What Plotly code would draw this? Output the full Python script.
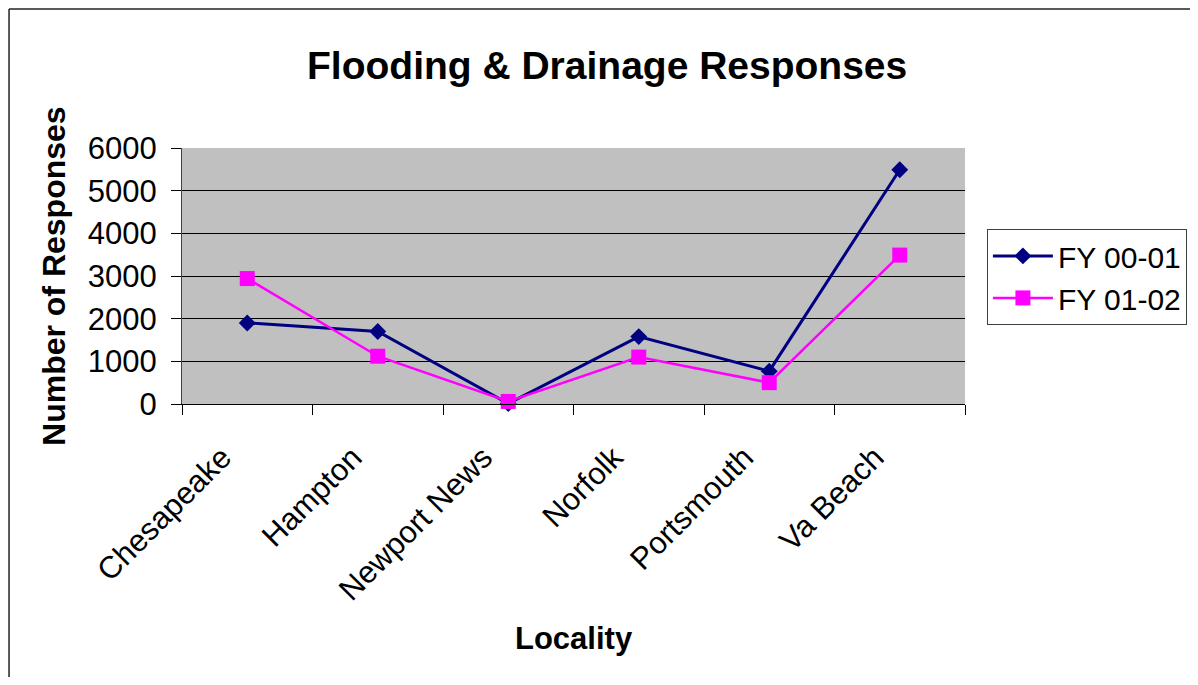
import plotly.graph_objects as go

categories = ["Chesapeake", "Hampton", "Newport News", "Norfolk", "Portsmouth", "Va Beach"]
fy_00_01 = [1900, 1700, 10, 1580, 770, 5490]
fy_01_02 = [2940, 1120, 60, 1100, 500, 3490]
series_names = ["FY 00-01", "FY 01-02"]
y_ticks = [0, 1000, 2000, 3000, 4000, 5000, 6000]

FONT = "Arial, Liberation Sans, sans-serif"

fig = go.Figure()
fig.add_trace(go.Scatter(
    x=categories, y=fy_00_01, name=series_names[0], mode="lines+markers",
    line=dict(color="#000080", width=3),
    marker=dict(symbol="diamond", size=13, color="#000080"),
    cliponaxis=False,
))
fig.add_trace(go.Scatter(
    x=categories, y=fy_01_02, name=series_names[1], mode="lines+markers",
    line=dict(color="#FF00FF", width=2.5),
    marker=dict(symbol="square", size=15, color="#FF00FF"),
    cliponaxis=False,
))

frame = dict(color="#222222", width=1.5)

fig.update_layout(
    width=1182, height=669,
    margin=dict(l=174, r=225, t=140, b=273, autoexpand=False),
    paper_bgcolor="white",
    plot_bgcolor="#C0C0C0",
    font=dict(family=FONT, color="black", size=31),
    showlegend=True,
    legend=dict(
        x=1.028, xanchor="left", y=0.684, yanchor="top",
        bordercolor="#404040", borderwidth=1, bgcolor="white",
        font=dict(size=30, family=FONT),
        tracegroupgap=0, itemwidth=60,
    ),
    xaxis=dict(
        type="category", range=[-0.5, 5.5],
        tickson="boundaries", ticks="outside", ticklen=10, tickcolor="black",
        showline=True, linecolor="black", linewidth=1,
        showgrid=False, tickangle=-45, ticklabelstandoff=22, ticklabelshift=-25,
        tickfont=dict(size=31, family=FONT),
    ),
    yaxis=dict(
        range=[0, 6000], tickvals=y_ticks,
        ticks="outside", ticklen=10, tickcolor="black",
        showline=True, linecolor="#404040", linewidth=1,
        showgrid=True, gridcolor="black", gridwidth=1,
        zeroline=False, ticklabelstandoff=8,
        tickfont=dict(size=31, family=FONT),
    ),
    annotations=[
        dict(text="<b>Flooding & Drainage Responses</b>", xref="paper", yref="paper",
             x=0.5428, y=1.324, xanchor="center", yanchor="middle", showarrow=False,
             font=dict(size=39, family=FONT)),
        dict(text="<b>Number of Responses</b>", xref="paper", yref="paper",
             x=-0.1635, y=0.5, xanchor="center", yanchor="middle", showarrow=False,
             textangle=-90, font=dict(size=32, family=FONT)),
        dict(text="<b>Locality</b>", xref="paper", yref="paper",
             x=0.5, y=-0.915, xanchor="center", yanchor="middle", showarrow=False,
             font=dict(size=31, family=FONT)),
    ],
    shapes=[
        dict(type="line", xref="paper", yref="paper", x0=-0.2209, y0=1.5425, x1=1.4, y1=1.5425,
             line=frame, layer="below"),
        dict(type="line", xref="paper", yref="paper", x0=-0.2209, y0=-1.2, x1=-0.2209, y1=1.5425,
             line=frame, layer="below"),
    ],
)

fig.write_html("out.html")
